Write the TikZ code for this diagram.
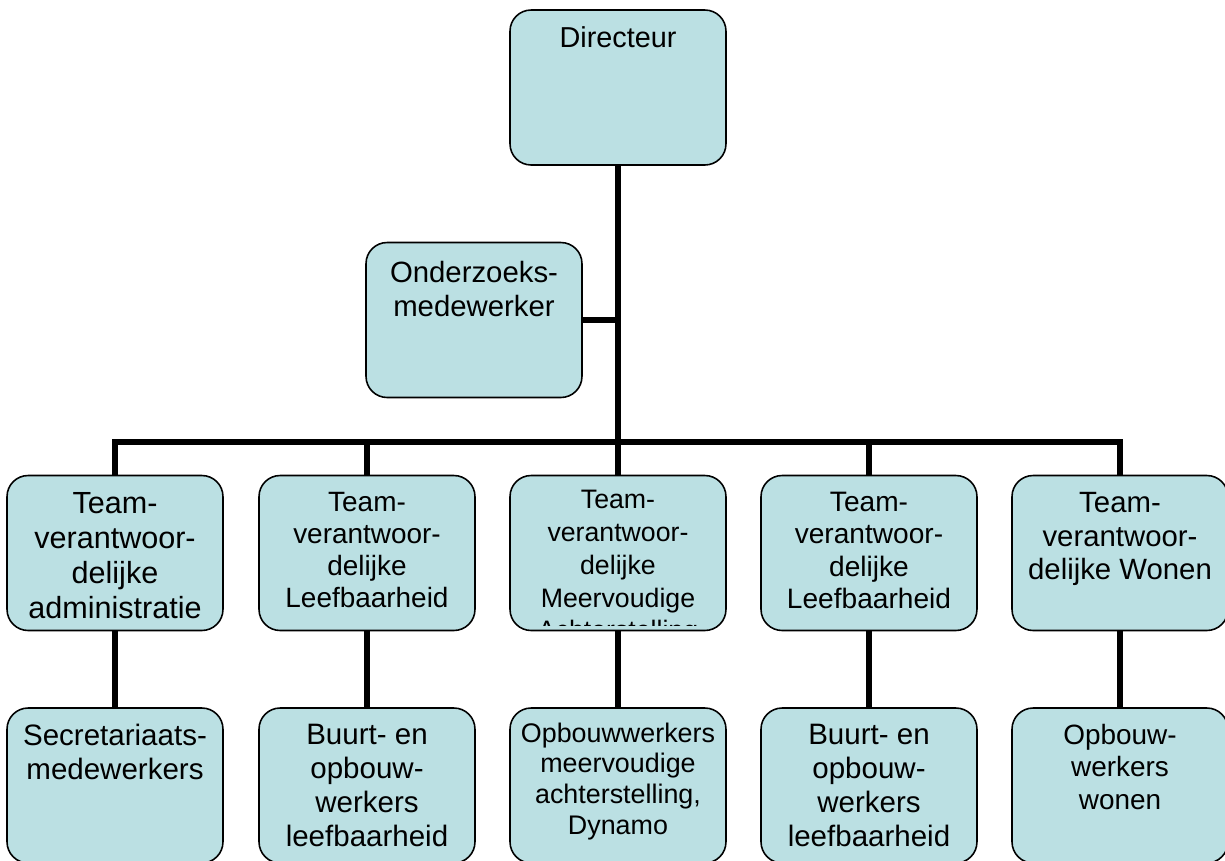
\documentclass[tikz,border=0pt]{standalone}
\usepackage{fontspec}
\setmainfont{Liberation Sans}
\usetikzlibrary{calc}
\definecolor{boxfill}{HTML}{BBE0E3}
\newcommand{\fsz}[1]{\fontsize{#1}{\fpeval{1.15*#1}}\selectfont}
\tikzset{
  orgbox/.style={draw=black, line width=0.9pt, fill=boxfill, rounded corners=12pt,
    minimum width=4.32cm, minimum height=3.1cm, inner sep=0pt},
  conn/.style={draw=black, line width=3.1pt},
  txt/.style={anchor=north, align=center, inner sep=0pt, text=black}
}
\begin{document}
\begin{tikzpicture}[x=0.02cm, y=-0.02cm]
\useasboundingbox (0,0) rectangle (1225,860);
% boxes
\node[orgbox] (dir) at (618,87.5) {};
\node[orgbox] (ond) at (474,320) {};
\node[orgbox] (t1) at (115,553) {};
\node[orgbox] (t2) at (367,553) {};
\node[orgbox] (t3) at (618,553) {};
\node[orgbox] (t4) at (869,553) {};
\node[orgbox] (t5) at (1120,553) {};
\node[orgbox] (w1) at (115,785.5) {};
\node[orgbox] (w2) at (367,785.5) {};
\node[orgbox] (w3) at (618,785.5) {};
\node[orgbox] (w4) at (869,785.5) {};
\node[orgbox] (w5) at (1120,785.5) {};
% connectors
\coordinate (bar) at (618,442);
\draw[conn] (dir.south) -- (bar);
\draw[conn] (ond.east) -- (ond.east -| dir.south);
\draw[conn] (t1.north) -- (t1.north |- bar) -- (t5.north |- bar) -- (t5.north);
\draw[conn] (t2.north) -- (t2.north |- bar);
\draw[conn] (t3.north) -- (t3.north |- bar);
\draw[conn] (t4.north) -- (t4.north |- bar);
\draw[conn] (t1.south) -- (w1.north);
\draw[conn] (t2.south) -- (w2.north);
\draw[conn] (t3.south) -- (w3.north);
\draw[conn] (t4.south) -- (w4.north);
\draw[conn] (t5.south) -- (w5.north);
% texts
\node[txt, font=\fsz{16.4}] (dirt) at ($(dir.north)+(0,17)$) {Directeur};
\node[txt, font=\fsz{16.7}] (ondt) at ($(ond.north)+(0,19)$) {Onderzoeks-\\medewerker};
\node[txt, font=\fsz{17.4}] (t1t) at ($(t1.north)+(0,17)$) {Team-\\verantwoor-\\delijke\\administratie};
\node[txt, font=\fsz{15.9}] (t2t) at ($(t2.north)+(0,17)$) {Team-\\verantwoor-\\delijke\\Leefbaarheid};
\begin{scope}
\clip ($(t3.north west)+(2,2)$) rectangle ($(t3.south east)+(-2,-6)$);
\node[txt, font={\fontsize{15.2}{18.7}\selectfont}] (t3t) at ($(t3.north)+(0,15)$) {Team-\\verantwoor-\\delijke\\Meervoudige\\Achterstelling};
\end{scope}
\node[txt, font=\fsz{16.0}] (t4t) at ($(t4.north)+(0,17)$) {Team-\\verantwoor-\\delijke\\Leefbaarheid};
\node[txt, font=\fsz{16.7}] (t5t) at ($(t5.north)+(0,17)$) {Team-\\verantwoor-\\delijke Wonen};
\node[txt, font=\fsz{16.8}] (w1t) at ($(w1.north)+(0,17)$) {Secretariaats-\\medewerkers};
\node[txt, font=\fsz{16.8}] (w2t) at ($(w2.north)+(0,17)$) {Buurt- en\\opbouw-\\werkers\\leefbaarheid};
\node[txt, font=\fsz{15.3}] (w3t) at ($(w3.north)+(0,15)$) {Opbouwwerkers\\meervoudige\\achterstelling,\\Dynamo};
\node[txt, font=\fsz{16.8}] (w4t) at ($(w4.north)+(0,17)$) {Buurt- en\\opbouw-\\werkers\\leefbaarheid};
\node[txt, font=\fsz{15.9}] (w5t) at ($(w5.north)+(0,17)$) {Opbouw-\\werkers\\wonen};
\end{tikzpicture}
\end{document}
